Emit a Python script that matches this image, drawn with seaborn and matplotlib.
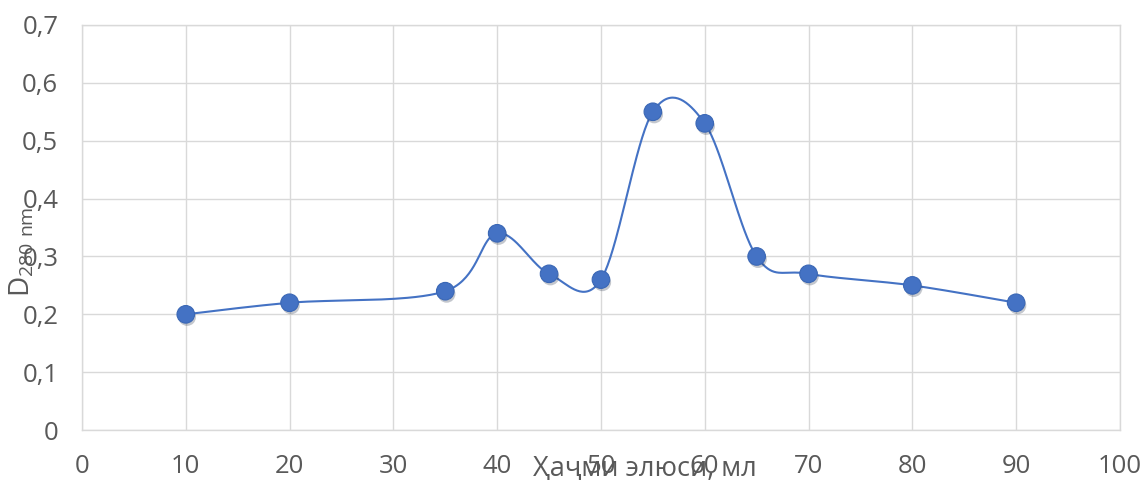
import numpy as np
import pandas as pd
import seaborn as sns
import matplotlib.pyplot as plt
import matplotlib.patheffects as pe
from matplotlib.ticker import FuncFormatter, MultipleLocator

# элюция: ҳаҷм (мл) ва зичии оптикӣ D280
volume = [10, 20, 35, 40, 45, 50, 55, 60, 65, 70, 80, 90]
density = [0.20, 0.22, 0.24, 0.34, 0.27, 0.26, 0.55, 0.53, 0.30, 0.27, 0.25, 0.22]

x_label = "Ҳаҷми элюси, мл"
y_label = "D$_{\\mathregular{280\\ nm}}$"

sns.set_theme(style="white")
plt.rcParams['font.family'] = ['Open Sans', 'DejaVu Sans']
plt.rcParams['mathtext.fontset'] = 'custom'
plt.rcParams['mathtext.rm'] = 'Open Sans'


def smooth_curve(xs, ys, n=40):
    # сглаживание как в Excel (Catmull-Rom через кривые Безье)
    p = np.column_stack([xs, ys]).astype(float)
    p = np.vstack([p[0], p, p[-1]])
    t = np.linspace(0, 1, n)[:, None]
    out = []
    for i in range(1, len(p) - 2):
        p0, p1, p2, p3 = p[i - 1], p[i], p[i + 1], p[i + 2]
        c1 = p1 + (p2 - p0) / 6
        c2 = p2 - (p3 - p1) / 6
        seg = ((1 - t) ** 3) * p1 + 3 * ((1 - t) ** 2) * t * c1 + 3 * (1 - t) * t ** 2 * c2 + t ** 3 * p2
        out.append(seg if i == 1 else seg[1:])
    out = np.vstack(out)
    return out[:, 0], out[:, 1]


sx, sy = smooth_curve(volume, density)
curve = pd.DataFrame({"x": sx, "y": sy})
df = pd.DataFrame({"volume": volume, "density": density})

fig = plt.figure(figsize=(11.45, 4.8), dpi=100)
ax = fig.add_axes([0.0716, 0.104, 0.9065, 0.844])

sns.lineplot(data=curve, x="x", y="y", sort=False, estimator=None, ax=ax,
             color="#4472C4", linewidth=1.5, zorder=3)
sns.scatterplot(data=df, x="volume", y="density", ax=ax, s=160,
                color="#4472C4", edgecolor="#3A67B5", linewidth=0.8, zorder=4)
ax.collections[-1].set_path_effects([pe.SimplePatchShadow(offset=(1, -2), alpha=0.25), pe.Normal()])

ax.set_xlim(0, 100)
ax.set_ylim(0, 0.7)
ax.xaxis.set_major_locator(MultipleLocator(10))
ax.yaxis.set_major_locator(MultipleLocator(0.1))
ax.yaxis.set_major_formatter(FuncFormatter(lambda v, p: "0" if abs(v) < 1e-9 else f"{v:.1f}".replace(".", ",")))
ax.grid(True, color="#D9D9D9", linewidth=1)
for s in ax.spines.values():
    s.set_color("#D9D9D9")
    s.set_linewidth(1)
ax.tick_params(axis="both", length=0, labelsize=18.5, colors="#595959", pad=17)

ax.set_xlabel(x_label, fontsize=19.5, color="#595959")
ax.xaxis.set_label_coords(0.542, -0.062)
ax.set_ylabel(y_label, fontsize=20, color="#595959")
ax.yaxis.set_label_coords(-0.044, 0.44)

fig.savefig("out.png", dpi=100)
